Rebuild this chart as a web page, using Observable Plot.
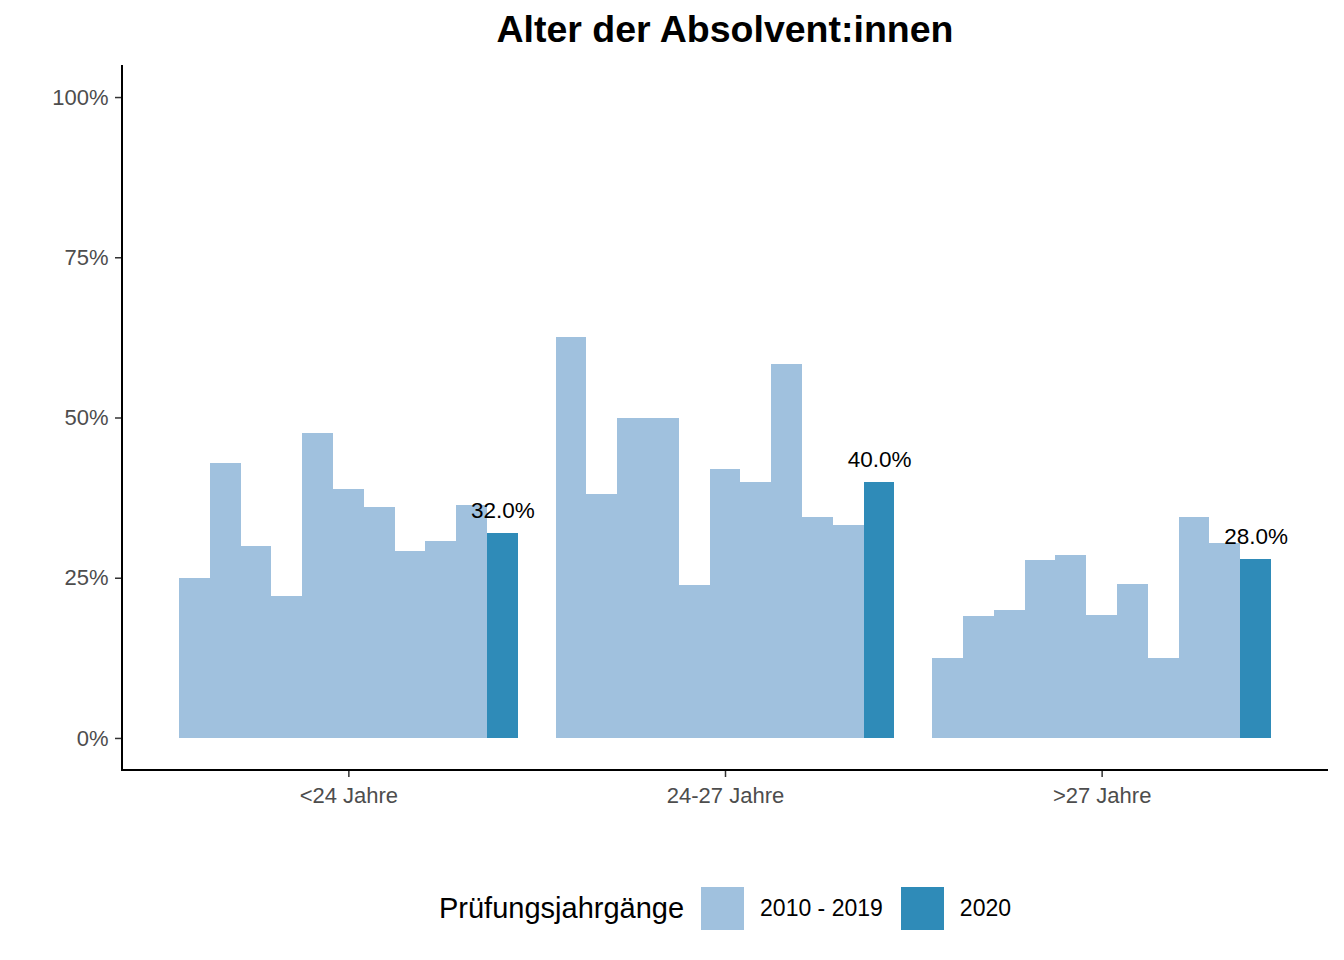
<!DOCTYPE html>
<html>
<head>
<meta charset="utf-8">
<script src="https://cdn.jsdelivr.net/npm/d3@7"></script>
<script src="https://cdn.jsdelivr.net/npm/@observablehq/plot@0.6"></script>
<style>
  html, body { margin: 0; padding: 0; background: #fff; }
  body { width: 1344px; height: 960px; position: relative; overflow: hidden;
         font-family: "Liberation Sans", Arial, Helvetica, sans-serif; }
  #title { position: absolute; left: 122px; width: 1206px; top: 6px; text-align: center;
           font-size: 37.5px; font-weight: bold; color: #000; line-height: 46px; }
  #chart { position: absolute; left: 0; top: 50px; }
  #legend { position: absolute; top: 887px; left: 122px; width: 1206px; height: 43px;
            display: flex; align-items: center; justify-content: center; color: #000; }
  #legend .ttl { font-size: 29px; margin-right: 17px; }
  #legend .sw { width: 43px; height: 43px; display: inline-block; }
  #legend .lab { font-size: 23px; margin-left: 16px; margin-right: 18px; }
  #legend .lab:last-child { margin-right: 0; }
</style>
</head>
<body>
<div id="title">Alter der Absolvent:innen</div>
<div id="chart"></div>
<div id="legend"></div>
<script>
// ---- data ----
const groups = ["<24 Jahre", "24-27 Jahre", ">27 Jahre"];
const years = ["2010", "2011", "2012", "2013", "2014", "2015", "2016", "2017", "2018", "2019", "2020"];
const valuesUnder24 = [25.0, 42.9, 30.0, 22.2, 47.6, 38.9, 36.0, 29.2, 30.8, 36.4, 32.0];
const values24to27 = [62.5, 38.1, 50.0, 50.0, 23.8, 41.9, 40.0, 58.3, 34.5, 33.3, 40.0];
const valuesOver27 = [12.5, 19.0, 20.0, 27.7, 28.6, 19.2, 24.0, 12.5, 34.5, 30.4, 28.0];
const seriesNames = ["2010 - 2019", "2020"];
const seriesColors = ["#a0c1de", "#2f8bb8"];
const yTicks = [0, 25, 50, 75, 100];

const groupValues = [valuesUnder24, values24to27, valuesOver27];
const data = [];
groups.forEach((g, gi) => {
  years.forEach((yr, yi) => {
    data.push({group: g, year: yr, value: groupValues[gi][yi],
               series: yr === "2020" ? seriesNames[1] : seriesNames[0]});
  });
});

const W = 1344, H = 780, mL = 122, mR = 16, mT = 15, mB = 60;

function build(yAxisDx) {
  return Plot.plot({
    width: W, height: H,
    marginLeft: mL, marginRight: mR, marginTop: mT, marginBottom: mB,
    style: {fontFamily: '"Liberation Sans", Arial, sans-serif', background: "transparent"},
    fx: {domain: groups, paddingInner: 0.1, paddingOuter: 0.151, label: null, round: false},
    x: {domain: years, padding: 0, axis: null, round: false},
    y: {domain: [-5, 105], label: null},
    color: {domain: seriesNames, range: seriesColors},
    marks: [
      Plot.barY(data, {fx: "group", x: "year", y1: 0, y2: "value", fill: "series",
                       shapeRendering: "crispEdges"}),
      Plot.text(data.filter(d => d.year === "2020"), {
        fx: "group", x: "year", y: "value",
        text: d => d.value.toFixed(1) + "%",
        lineAnchor: "bottom", dy: -15, fontSize: 22.5, fill: "#000"
      }),
      Plot.axisY({ticks: yTicks, tickFormat: d => d + "%", tickSize: 7, tickPadding: 7,
                  fontSize: 22, color: "#4d4d4d", stroke: "#333", strokeWidth: 1.5,
                  label: null, dx: yAxisDx}),
      Plot.axisFx({anchor: "bottom", tickSize: 7, tickPadding: 10, fontSize: 22, color: "#4d4d4d",
                   stroke: "#333", strokeWidth: 1.5, label: null})
    ]
  });
}

// first pass: find where the first facet starts, so the y axis can sit on the panel edge
const probe = build(0);
const fxScale = probe.scale("fx");
const offset = fxScale.apply(groups[0]) - mL;
const plot = build(-offset);

// axis lines (theme_classic style), positioned via the plot's y scale
const ys = plot.scale("y");
const svg = d3.select(plot);
const yBottom = ys.apply(-5), yTop = ys.apply(105);
svg.append("line").attr("x1", mL - 1).attr("x2", W - mR).attr("y1", yBottom).attr("y2", yBottom)
  .attr("stroke", "#000").attr("stroke-width", 2);
svg.append("line").attr("x1", mL).attr("x2", mL).attr("y1", yTop).attr("y2", yBottom + 1)
  .attr("stroke", "#000").attr("stroke-width", 2);
document.getElementById("chart").appendChild(plot);

// legend
const leg = document.getElementById("legend");
const t = document.createElement("span"); t.className = "ttl"; t.textContent = "Prüfungsjahrgänge";
leg.appendChild(t);
seriesNames.forEach((n, i) => {
  const sw = document.createElement("span"); sw.className = "sw"; sw.style.background = seriesColors[i];
  const lb = document.createElement("span"); lb.className = "lab"; lb.textContent = n;
  leg.appendChild(sw); leg.appendChild(lb);
});
</script>
</body>
</html>
